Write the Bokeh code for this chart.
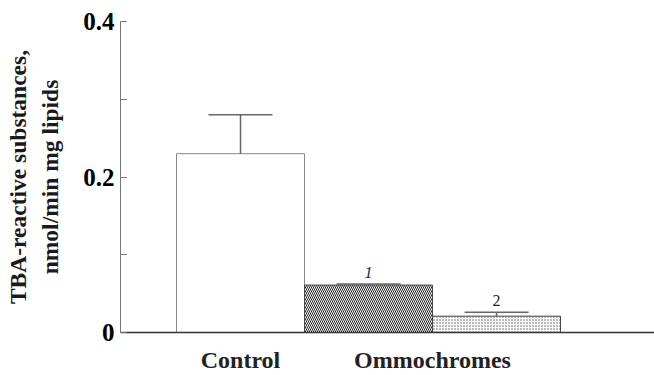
from bokeh.plotting import figure
from bokeh.models import Range1d, FixedTicker, ColumnDataSource, LinearAxis
from bokeh.core.properties import value
from bokeh.embed import file_html
from bokeh.resources import INLINE

# --- data ---
groups = ["Control", "Ommochromes 1", "Ommochromes 2"]
means = [0.23, 0.061, 0.021]
err_tops = [0.28, 0.0625, 0.026]
bar_labels = ["", "1", "2"]
x_tick_labels = {0: "Control", 1.5: "Ommochromes"}
y_ticks = [0, 0.2, 0.4]
y_minor = [0.1, 0.3]
y_title_1 = "TBA-reactive substances,"
y_title_2 = "nmol/min mg lipids"

xs = [0, 1, 2]
FONT = "Liberation Serif"

p = figure(width=654, height=375, output_backend="svg", toolbar_location=None,
           x_range=Range1d(-0.9375, 3.234), y_range=Range1d(0, 0.4),
           min_border_left=120, min_border_right=0, min_border_top=21, min_border_bottom=39)
p.outline_line_color = None
p.grid.grid_line_color = None
p.background_fill_color = "white"

# bars
p.vbar(x=[xs[0]], top=[means[0]], width=1, bottom=0, fill_color="white", line_color="#888888", line_width=1)
p.vbar(x=[xs[1]], top=[means[1]], width=1, bottom=0, fill_color="white", line_color="#444444", line_width=1,
       hatch_pattern="left_diagonal_line", hatch_color="#222222", hatch_scale=4, hatch_weight=1)
p.vbar(x=[xs[2]], top=[means[2]], width=1, bottom=0, fill_color="white", line_color="#444444", line_width=1,
       hatch_pattern="dot", hatch_color="#555555", hatch_scale=3, hatch_weight=1)

# error bars
cap = 0.25
p.segment(x0=xs, y0=means, x1=xs, y1=err_tops, line_color="#666666", line_width=1.5)
p.segment(x0=[x - cap for x in xs], y0=err_tops, x1=[x + cap for x in xs], y1=err_tops,
          line_color="#666666", line_width=1.5)

# labels above error bars
src = ColumnDataSource(dict(x=xs[1:], y=err_tops[1:], t=bar_labels[1:], st=["italic", "normal"]))
p.text(x="x", y="y", text="t", source=src, text_font=value(FONT), text_font_size="16px",
       text_font_style="st", text_align="center", text_baseline="bottom", y_offset=-6,
       text_color="#222222")

# y axis
ya = p.yaxis[0]
ya.ticker = FixedTicker(ticks=y_ticks, minor_ticks=y_minor)
ya.major_label_overrides = {0: "0"}
ya.major_tick_in = 6
ya.major_tick_out = 0
ya.minor_tick_in = 6
ya.minor_tick_out = 0
ya.axis_line_color = "#777777"
ya.major_tick_line_color = "#777777"
ya.minor_tick_line_color = "#777777"
ya.major_label_text_font = FONT
ya.major_label_text_font_style = "bold"
ya.major_label_text_font_size = "25px"
ya.major_label_text_color = "black"
ya.major_label_standoff = 6
ya.axis_label = y_title_2
ya.axis_label_text_font = FONT
ya.axis_label_text_font_style = "bold"
ya.axis_label_text_font_size = "23.5px"
ya.axis_label_text_color = "#1a1a1a"
ya.axis_label_standoff = 17

# second (outer) axis carrying the first title line
ya2 = LinearAxis(ticker=FixedTicker(ticks=[]), axis_line_color=None,
                 major_tick_line_color=None, minor_tick_line_color=None,
                 major_label_text_font_size="0px", major_label_standoff=0,
                 axis_label=y_title_1, axis_label_text_font=FONT,
                 axis_label_text_font_style="bold", axis_label_text_font_size="23.5px",
                 axis_label_text_color="#1a1a1a", axis_label_standoff=4)
p.add_layout(ya2, "left")

# x axis
xa = p.xaxis[0]
xa.ticker = FixedTicker(ticks=list(x_tick_labels.keys()))
xa.major_label_overrides = x_tick_labels
xa.major_tick_line_color = None
xa.minor_tick_line_color = None
xa.axis_line_color = "#333333"
xa.axis_line_width = 1.5
xa.major_label_text_font = FONT
xa.major_label_text_font_style = "bold"
xa.major_label_text_font_size = "24px"
xa.major_label_text_color = "#222222"
xa.major_label_standoff = 8

open("out.html", "w").write(file_html(p, INLINE))
